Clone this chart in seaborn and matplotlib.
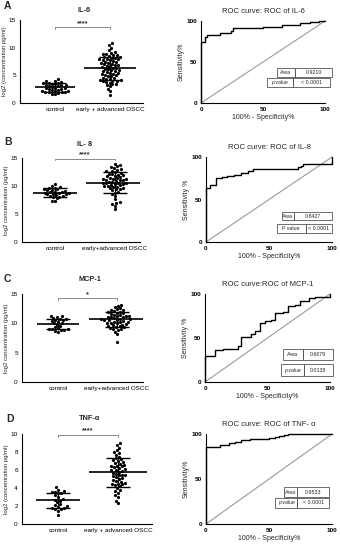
#!/usr/bin/env python3
"""
Cytokine levels (control vs OSCC) with matching ROC curves, four panels.
"""

import matplotlib
matplotlib.use("Agg")
import matplotlib.pyplot as plt
from matplotlib.patches import Rectangle
import numpy as np
import pandas as pd
import seaborn as sns

# ---- data ----
groups = ["control", "early + advanced OSCC"]

il6_control = [1.6, 1.7, 1.8, 1.9, 1.9, 2.0, 2.0, 2.1, 2.2, 2.2, 2.3, 2.4, 2.5, 2.6, 2.7, 2.8,
               2.8, 2.9, 3.0, 3.1, 3.2, 3.3, 3.3, 3.4, 3.5, 3.6, 3.6, 3.7, 3.8, 3.9, 4.0, 4.4]
il6_oscc = [1.5, 2.2, 2.6, 3.0, 3.2, 3.4, 3.5, 3.7, 3.8, 3.9, 4.0, 4.0, 4.1, 4.2, 4.3, 4.4, 4.5,
            4.6, 4.8, 4.9, 5.0, 5.1, 5.2, 5.3, 5.4, 5.5, 5.6, 5.7, 5.8, 5.9, 6.0, 6.1, 6.2, 6.3,
            6.4, 6.5, 6.6, 6.7, 6.8, 6.9, 7.0, 7.1, 7.2, 7.3, 7.4, 7.5, 7.6, 7.7, 7.8, 7.9, 8.0,
            8.0, 8.1, 8.2, 8.3, 8.4, 8.5, 8.6, 8.7, 8.8, 8.9, 9.0, 9.2, 9.5, 10.0, 10.5, 10.8]

il8_control = [7.3, 7.4, 7.8, 8.0, 8.1, 8.2, 8.3, 8.4, 8.5, 8.5, 8.6, 8.7, 8.8, 8.8, 8.9, 9.0,
               9.0, 9.1, 9.2, 9.3, 9.4, 9.5, 9.6, 9.7, 9.8, 10.0, 10.3]
il8_oscc = [5.9, 6.5, 6.8, 7.0, 7.2, 7.6, 8.2, 8.5, 8.8, 9.0, 9.2, 9.4, 9.5, 9.6, 9.7, 9.8, 9.9,
            10.0, 10.0, 10.1, 10.2, 10.3, 10.4, 10.5, 10.5, 10.6, 10.6, 10.7, 10.8, 10.9, 11.0,
            11.0, 11.1, 11.2, 11.2, 11.3, 11.4, 11.5, 11.6, 11.7, 11.8, 11.9, 12.0, 12.1, 12.2,
            12.3, 12.5, 12.6, 12.7, 12.9, 13.0, 13.2, 13.4, 13.5, 13.7, 14.0]

mcp1_control = [8.6, 8.7, 8.8, 8.9, 9.0, 9.0, 9.1, 9.2, 9.4, 9.6, 9.8, 10.0, 10.1, 10.3, 10.4,
                10.5, 10.6, 10.7, 10.8, 10.9, 11.0, 11.2, 11.3]
mcp1_oscc = [6.8, 8.2, 8.6, 8.9, 9.0, 9.1, 9.2, 9.3, 9.4, 9.5, 9.6, 9.7, 9.8, 9.9, 10.0, 10.0,
             10.1, 10.2, 10.3, 10.3, 10.4, 10.5, 10.5, 10.6, 10.7, 10.7, 10.8, 10.9, 11.0, 11.0,
             11.1, 11.2, 11.3, 11.3, 11.4, 11.5, 11.6, 11.7, 11.8, 11.9, 12.0, 12.1, 12.2, 12.3,
             12.4, 12.6, 12.8, 13.0, 13.2]

tnf_control = [1.0, 1.5, 1.7, 1.7, 1.8, 1.8, 1.9, 2.0, 2.1, 2.2, 2.4, 2.6, 2.7, 2.8, 3.0, 3.2,
               3.4, 3.5, 3.6, 3.6, 3.7, 3.8, 4.1]
tnf_oscc = [2.3, 2.6, 3.0, 3.2, 3.5, 3.7, 3.8, 4.0, 4.2, 4.3, 4.4, 4.5, 4.5, 4.6, 4.7, 4.8, 4.9,
            5.0, 5.1, 5.2, 5.3, 5.4, 5.5, 5.5, 5.6, 5.7, 5.8, 5.9, 6.0, 6.0, 6.1, 6.2, 6.3, 6.4,
            6.5, 6.5, 6.6, 6.7, 6.8, 6.9, 7.0, 7.1, 7.2, 7.3, 7.5, 7.7, 7.9, 8.0, 8.2, 8.5, 8.8, 9.0]

# ROC curves (100% - specificity, sensitivity), corner points of the step line
il6_fpr = [0, 0, 3, 5, 15, 24, 26, 50, 65, 80, 88, 95, 100]
il6_tpr = [0, 74, 80, 83, 85, 88, 91, 93, 95, 97, 99, 100, 100]
il8_fpr = [0, 0, 3, 8, 13, 17, 22, 28, 33, 37, 73, 75, 77, 100]
il8_tpr = [0, 64, 67, 75, 76, 78, 79, 81, 83, 86, 88, 90, 92, 100]
mcp1_fpr = [0, 0, 8, 14, 20, 26, 29, 37, 40, 44, 48, 53, 56, 62, 66, 72, 76, 83, 88, 100]
mcp1_tpr = [0, 29, 36, 37, 38, 41, 51, 55, 58, 67, 69, 71, 78, 80, 86, 88, 92, 95, 97, 100]
tnf_fpr = [0, 0, 11, 18, 23, 28, 35, 42, 50, 55, 58, 62, 65, 100]
tnf_tpr = [0, 86, 88, 90, 91, 93, 94, 95, 96, 97, 98, 99, 100, 100]

auc_values = ["0.9210", "0.8427", "0.6679", "0.9533"]
p_values = ["< 0.0001", "< 0.0001", "0.0138", "< 0.0001"]
stars = ["****", "****", "*", "****"]

W, H = 340, 550
FONT = ["Liberation Sans", "DejaVu Sans"]


def px_axes(fig, left, top, right, bottom):
    return fig.add_axes([left / W, 1 - bottom / H, (right - left) / W, (bottom - top) / H])


def style_axes(ax, bold_ticks=False):
    sns.despine(ax=ax)
    for side in ("left", "bottom"):
        ax.spines[side].set_linewidth(0.8)
        ax.spines[side].set_color("black")
    ax.tick_params(length=2, width=0.6, pad=1, labelsize=4.6, colors="black")
    if bold_ticks:
        for lab in ax.get_xticklabels() + ax.get_yticklabels():
            lab.set_fontweight("bold")


def dot_panel(ax, ctrl, oscc, xlim, ylim, yticks, ylabel, xlabels, star, bracket_y):
    df = pd.DataFrame({
        "group": [groups[0]] * len(ctrl) + [groups[1]] * len(oscc),
        "value": ctrl + oscc,
    })
    sns.swarmplot(data=df, x="group", y="value", order=groups, color="black",
                  size=2.3, ax=ax, zorder=2)
    for i, vals in enumerate([ctrl, oscc]):
        m, s = np.mean(vals), np.std(vals, ddof=1)
        half = 0.36 if i == 0 else 0.48
        ax.hlines(m, i - half, i + half, color="black", lw=1.2, zorder=3)
        ax.vlines(i, m - s, m + s, color="black", lw=0.9, zorder=3)
        ax.hlines([m - s, m + s], i - 0.2, i + 0.2, color="black", lw=1.0, zorder=3)
    # significance bracket
    tick = (ylim[1] - ylim[0]) * 0.02
    ax.plot([0, 0, 1, 1], [bracket_y - tick, bracket_y, bracket_y, bracket_y - tick],
            color="#8a8a8a", lw=0.7, clip_on=False)
    ax.text(0.5, bracket_y + tick * 0.1, star, ha="center", va="bottom", fontsize=5.3,
            fontweight="bold", color="#333333")
    ax.set_xlim(*xlim)
    ax.set_ylim(*ylim)
    ax.set_yticks(yticks)
    ax.set_xticks([0, 1])
    ax.set_xticklabels(xlabels)
    ax.set_xlabel("")
    ax.set_ylabel(ylabel, fontsize=4.3, labelpad=1)
    style_axes(ax)


def roc_panel(ax, fpr, tpr, title, ylabel, auc, pval, plabel, area_box, p_box):
    ax.plot([0, 100], [0, 100], color="#9a9a9a", lw=0.8, clip_on=False)
    sns.lineplot(x=fpr, y=tpr, drawstyle="steps-post", sort=False, estimator=None,
                 color="black", lw=1.0, ax=ax)
    ax.lines[-1].set_clip_on(False)
    ax.set_xlim(0, 100)
    ax.set_ylim(0, 100)
    ax.set_xticks([0, 50, 100])
    ax.set_yticks([0, 50, 100])
    ax.set_xlabel("100% - Specificity%", fontsize=5, labelpad=1)
    ax.set_ylabel(ylabel, fontsize=5, labelpad=1)
    ax.set_title(title, fontsize=5.5, pad=6)
    style_axes(ax, bold_ticks=True)
    for (x0, xd, x1, y0, y1), left, right in ((area_box, "Area", auc), (p_box, plabel, pval)):
        for a, b in ((x0, xd), (xd, x1)):
            ax.add_patch(Rectangle((a, y0), b - a, y1 - y0, fill=False, lw=0.6,
                                   ec="#555555", clip_on=False))
        ax.text((x0 + xd) / 2, (y0 + y1) / 2, left, ha="center", va="center", fontsize=3.8,
                style="italic" if left.startswith("p") else "normal")
        ax.text((xd + x1) / 2, (y0 + y1) / 2, right, ha="center", va="center", fontsize=3.8)


sns.set_theme(style="white")
plt.rcParams["font.family"] = FONT
fig = plt.figure(figsize=(W / 100, H / 100), dpi=100)
fig.patch.set_facecolor("white")

# ---- A: IL-6 ----
ax = px_axes(fig, 20, 20, 143, 103)
dot_panel(ax, il6_control, il6_oscc, (-0.64, 1.6), (0, 15), [0, 5, 10, 15],
          "log2 (concentration pg/ml)", ["control", "early + advanced OSCC"], stars[0], 13.7)
ax = px_axes(fig, 201, 21, 325, 103)
roc_panel(ax, il6_fpr, il6_tpr, "ROC curve: ROC of IL-6", "Sensitivity%", auc_values[0],
          p_values[0], "p value", (61, 76, 106, 32, 43), (53, 74, 104, 19, 30))

# ---- B: IL-8 ----
ax = px_axes(fig, 22, 158, 140, 242)
dot_panel(ax, il8_control, il8_oscc, (-0.55, 1.42), (0, 15), [0, 5, 10, 15],
          "log2 concentration (pg/ml)", ["control", "early+advanced OSCC"], stars[1], 14.9)
ax = px_axes(fig, 206, 157, 332, 242)
roc_panel(ax, il8_fpr, il8_tpr, "ROC curve: ROC of IL-8", "Sensitivity %", auc_values[1],
          p_values[1], "P value", (60, 70, 100, 26, 35), (56, 79, 100, 11, 21))

# ---- C: MCP-1 ----
ax = px_axes(fig, 22, 294, 143, 382)
dot_panel(ax, mcp1_control, mcp1_oscc, (-0.61, 1.44), (0, 15), [0, 5, 10, 15],
          "log2 concentration (pg/ml)", ["control", "early+advanced OSCC"], stars[2], 14.3)
ax = px_axes(fig, 205, 294, 330, 382)
roc_panel(ax, mcp1_fpr, mcp1_tpr, "ROC curve:ROC of MCP-1", "Sensitivity %", auc_values[2],
          p_values[2], "p value", (62, 78, 102, 25, 37), (61, 79, 102, 7, 20))

# ---- D: TNF-alpha ----
ax = px_axes(fig, 22, 434, 152, 524)
dot_panel(ax, tnf_control, tnf_oscc, (-0.6, 1.57), (0, 10), [0, 2, 4, 6, 8, 10],
          "log2 (concentration pg/ml)", ["control", "early + advanced OSCC"], stars[3], 9.9)
ax = px_axes(fig, 206, 434, 332, 524)
roc_panel(ax, tnf_fpr, tnf_tpr, "ROC curve: ROC of TNF- α", "Sensitivity%", auc_values[3],
          p_values[3], "p value", (62, 72, 98, 30, 41), (55, 72, 98, 18, 29))

# dot-plot titles and panel letters, placed in figure pixels
for title, (x, y) in zip(["IL-6", "IL- 8", "MCP-1", "TNF-α"],
                         [(84, 10), (85, 144), (90, 280), (90, 419)]):
    fig.text(x / W, 1 - y / H, title, fontsize=5.3, fontweight="bold", ha="center", va="center")
for letter, (x, y) in zip("ABCD", [(4, 6), (4, 142), (4, 279), (6, 419)]):
    fig.text(x / W, 1 - y / H, letter, fontsize=7.5, fontweight="bold", va="center")

fig.savefig("out.png", dpi=100, facecolor="white")
